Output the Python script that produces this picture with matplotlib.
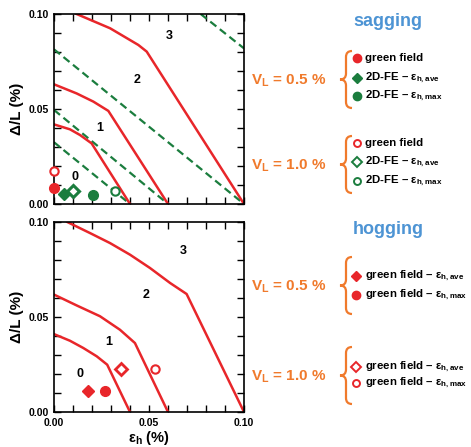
import numpy as np
import matplotlib
matplotlib.use("Agg")
import matplotlib.pyplot as plt
from matplotlib.path import Path
from matplotlib.patches import PathPatch

plt.rcParams['font.family'] = ['Liberation Sans', 'DejaVu Sans']
plt.rcParams['mathtext.fontset'] = 'custom'
plt.rcParams['mathtext.rm'] = 'Liberation Sans'
plt.rcParams['mathtext.bf'] = 'Liberation Sans:bold'

RED = '#e8262a'
GREEN = '#1b7d3e'
ORANGE = '#f07a2c'
BLUE = '#4d94d4'

# sagging: damage class boundaries (red) and 2D-FE boundaries (green dashed)
sag_red = [
    ([0.0, 0.0084, 0.0137, 0.0198, 0.040], [0.0419, 0.0393, 0.0363, 0.0319, 0.0]),
    ([0.0, 0.0119, 0.0207, 0.0286, 0.060], [0.063, 0.0582, 0.0539, 0.049, 0.0]),
    ([0.0119, 0.0295, 0.0444, 0.0488, 0.100], [0.100, 0.0925, 0.0837, 0.0802, 0.0]),
]
sag_green = [
    ([0.0, 0.040], [0.0325, 0.0]),
    ([0.0, 0.060], [0.0495, 0.0]),
    ([0.0, 0.100], [0.0814, 0.0]),
    ([0.0772, 0.100], [0.100, 0.0819]),
]
# hogging: damage class boundaries
hog_red = [
    ([0.0, 0.0084, 0.0154, 0.0225, 0.028, 0.040],
     [0.041, 0.0375, 0.0337, 0.0293, 0.0249, 0.0]),
    ([0.0, 0.0119, 0.0242, 0.0347, 0.0426, 0.060],
     [0.0618, 0.0561, 0.0504, 0.0433, 0.0363, 0.0]),
    ([0.007, 0.0189, 0.0295, 0.040, 0.0505, 0.0611, 0.0698, 0.100],
     [0.100, 0.0942, 0.0889, 0.0828, 0.0758, 0.0679, 0.0621, 0.0]),
]

# sagging points (VL = 0.5 % filled, VL = 1.0 % open)
sag_gf_05 = (0.0, 0.0086)
sag_gf_10 = (0.0, 0.0174)
sag_fe_ave_05 = (0.0054, 0.0051)
sag_fe_ave_10 = (0.0102, 0.0068)
sag_fe_max_05 = (0.0207, 0.0047)
sag_fe_max_10 = (0.0321, 0.0068)

# hogging points
hog_ave_05 = (0.0181, 0.0112)
hog_max_05 = (0.0268, 0.0112)
hog_ave_10 = (0.0353, 0.0226)
hog_max_10 = (0.0533, 0.0226)

sag_class_pos = [(0.011, 0.0144), (0.0242, 0.0398), (0.0435, 0.0653), (0.0605, 0.0884)]
hog_class_pos = [(0.0137, 0.020), (0.0286, 0.0367), (0.0484, 0.0614), (0.068, 0.0846)]
class_labels = ['0', '1', '2', '3']

W, H = 471, 447
fig = plt.figure(figsize=(W / 100, H / 100), dpi=100)


def fx(x):
    return x / W


def fy(y):
    return 1 - y / H


def setup(ax, show_x):
    ax.set_xlim(0, 0.10)
    ax.set_ylim(0, 0.10)
    ax.set_xticks([0, 0.05, 0.10])
    ax.set_yticks([0, 0.05, 0.10])
    ax.set_xticks(np.arange(0, 0.101, 0.01), minor=True)
    ax.set_yticks(np.arange(0, 0.101, 0.01), minor=True)
    ax.tick_params(which='both', direction='in', top=True, right=True, width=1.0)
    ax.tick_params(which='major', length=5, labelsize=7.5, pad=4)
    ax.tick_params(which='minor', length=5)
    ax.set_yticklabels(['0.00', '0.05', '0.10'], fontweight='bold')
    if show_x:
        ax.set_xticklabels(['0.00', '0.05', '0.10'], fontweight='bold')
    else:
        ax.set_xticklabels([])
    for s in ax.spines.values():
        s.set_linewidth(1.2)
    ax.set_ylabel('Δ/L (%)', fontsize=11, fontweight='bold', labelpad=3)


ax1 = fig.add_axes([fx(54), fy(204), 190 / W, 190 / H])
ax2 = fig.add_axes([fx(54), fy(412), 190 / W, 190 / H])
setup(ax1, False)
setup(ax2, True)
ax2.set_xlabel(r'ε$_\mathregular{h}$ (%)', fontsize=10.5, fontweight='bold', labelpad=1)

for xs, ys in sag_green:
    ax1.plot(xs, ys, color=GREEN, lw=1.6, ls=(0, (3.5, 2)))
for xs, ys in sag_red:
    ax1.plot(xs, ys, color=RED, lw=1.8)
for xs, ys in hog_red:
    ax2.plot(xs, ys, color=RED, lw=1.8)

ms = 7
kw = dict(clip_on=False, zorder=5)
ax1.plot(*sag_gf_05, 'o', color=RED, ms=ms, **kw)
ax1.plot(*sag_gf_10, 'o', mfc='white', mec=RED, mew=1.5, ms=ms - 1, **kw)
ax1.plot(*sag_fe_ave_05, 'D', color=GREEN, ms=ms - 1, **kw)
ax1.plot(*sag_fe_ave_10, 'D', mfc='white', mec=GREEN, mew=2.2, ms=ms - 1, **kw)
ax1.plot(*sag_fe_max_05, 'o', color=GREEN, ms=ms, **kw)
ax1.plot(*sag_fe_max_10, 'o', mfc='white', mec=GREEN, mew=1.5, ms=ms - 1, **kw)

ax2.plot(*hog_ave_05, 'D', color=RED, ms=ms - 1, **kw)
ax2.plot(*hog_max_05, 'o', color=RED, ms=ms, **kw)
ax2.plot(*hog_ave_10, 'D', mfc='white', mec=RED, mew=2.0, ms=ms - 1, **kw)
ax2.plot(*hog_max_10, 'o', mfc='white', mec=RED, mew=1.5, ms=ms - 1, **kw)

for (x, y), t in zip(sag_class_pos, class_labels):
    ax1.text(x, y, t, ha='center', va='center', fontsize=9, fontweight='bold')
for (x, y), t in zip(hog_class_pos, class_labels):
    ax2.text(x, y, t, ha='center', va='center', fontsize=9, fontweight='bold')


def brace(y0, y1, xtip=340, xs=346, xe=352):
    ym = (y0 + y1) / 2
    c = 6
    verts = [(xe, y0), (xs, y0), (xs, y0 + c), (xs, ym - c), (xs, ym), (xtip, ym),
             (xs, ym), (xs, ym + c), (xs, y1 - c), (xs, y1), (xe, y1)]
    codes = [Path.MOVETO, Path.CURVE3, Path.CURVE3, Path.LINETO, Path.CURVE3, Path.CURVE3,
             Path.CURVE3, Path.CURVE3, Path.LINETO, Path.CURVE3, Path.CURVE3]
    verts = [(fx(a), fy(b)) for a, b in verts]
    fig.patches.append(PathPatch(Path(verts, codes), fill=False, ec=ORANGE, lw=1.6,
                                 transform=fig.transFigure))


def marker(x, y, m, c, filled):
    if filled:
        fig.lines.append(plt.Line2D([fx(x)], [fy(y)], marker=m, color=c, ms=6 if m == 'o' else 5.5,
                                    transform=fig.transFigure))
    else:
        fig.lines.append(plt.Line2D([fx(x)], [fy(y)], marker=m, mfc='white', mec=c, mew=1.4,
                                    ms=5 if m == 'o' else 5.5, transform=fig.transFigure))


tkw = dict(fontsize=8.2, fontweight='bold', va='center', ha='left')
vkw = dict(fontsize=11, fontweight='bold', va='center', ha='left', color=ORANGE)

fig.text(fx(388), fy(22), 'sagging', fontsize=13, fontweight='bold', color=BLUE, ha='center', va='center')
fig.text(fx(251), fy(81), r'V$_\mathregular{L}$ = 0.5 %', **vkw)
fig.text(fx(251), fy(166), r'V$_\mathregular{L}$ = 1.0 %', **vkw)
brace(51, 108)
brace(136, 193)
sag_rows = [
    (58, 'o', RED, True, 'green field'),
    (78, 'D', GREEN, True, r'2D-FE – ε$_\mathregular{h,ave}$'),
    (96, 'o', GREEN, True, r'2D-FE – ε$_\mathregular{h,max}$'),
    (143, 'o', RED, False, 'green field'),
    (162, 'D', GREEN, False, r'2D-FE – ε$_\mathregular{h,ave}$'),
    (181, 'o', GREEN, False, r'2D-FE – ε$_\mathregular{h,max}$'),
]
for y, m, c, f, t in sag_rows:
    marker(357, y, m, c, f)
    fig.text(fx(365), fy(y), t, **tkw)

fig.text(fx(388), fy(230), 'hogging', fontsize=13, fontweight='bold', color=BLUE, ha='center', va='center')
fig.text(fx(251), fy(287), r'V$_\mathregular{L}$ = 0.5 %', **vkw)
fig.text(fx(251), fy(377), r'V$_\mathregular{L}$ = 1.0 %', **vkw)
brace(257, 314)
brace(347, 404)
hog_rows = [
    (276, 'D', RED, True, r'green field – ε$_\mathregular{h,ave}$'),
    (295, 'o', RED, True, r'green field – ε$_\mathregular{h,max}$'),
    (367, 'D', RED, False, r'green field – ε$_\mathregular{h,ave}$'),
    (383, 'o', RED, False, r'green field – ε$_\mathregular{h,max}$'),
]
for y, m, c, f, t in hog_rows:
    marker(356, y, m, c, f)
    fig.text(fx(365), fy(y), t, **tkw)

fig.savefig('out.png', dpi=100)
